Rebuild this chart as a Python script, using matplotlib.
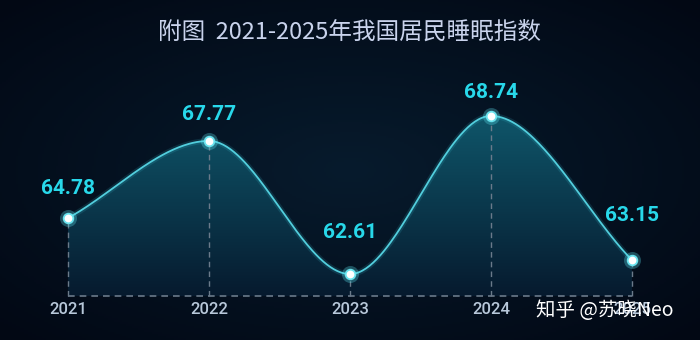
import numpy as np
import matplotlib.pyplot as plt
from matplotlib.colors import LinearSegmentedColormap

years = [2021, 2022, 2023, 2024, 2025]
index_values = [64.78, 67.77, 62.61, 68.74, 63.15]
year_labels = ["2021", "2022", "2023", "2024", "2025"]
value_labels = ["64.78", "67.77", "62.61", "68.74", "63.15"]
label_offsets = [21, 19, 30, 17, 32]  # points above each marker

plt.rcParams["font.family"] = ["Noto Sans CJK SC", "DejaVu Sans"]


def smooth_curve(x, y, n=80):
    """Monotone cubic Hermite curve through the points."""
    x = np.asarray(x, float)
    y = np.asarray(y, float)
    d = np.diff(y) / np.diff(x)
    m = np.zeros_like(y)
    m[0], m[-1] = d[0], d[-1]
    for i in range(1, len(y) - 1):
        if d[i - 1] * d[i] > 0:
            m[i] = 2 / (1 / d[i - 1] + 1 / d[i])
    xs, ys = [], []
    for i in range(len(x) - 1):
        h = x[i + 1] - x[i]
        t = np.linspace(0, 1, n)
        h00 = 2 * t**3 - 3 * t**2 + 1
        h10 = t**3 - 2 * t**2 + t
        h01 = -2 * t**3 + 3 * t**2
        h11 = t**3 - t**2
        xs.append(x[i] + t * h)
        ys.append(h00 * y[i] + h10 * h * m[i] + h01 * y[i + 1] + h11 * h * m[i + 1])
    return np.concatenate(xs), np.concatenate(ys)


fig = plt.figure(figsize=(7, 3.4), dpi=100)

# background with a soft radial glow
bg = fig.add_axes([0, 0, 1, 1], zorder=-2)
gx, gy = np.meshgrid(np.linspace(-1, 1, 350), np.linspace(-1, 1, 170))
r = np.clip(np.sqrt(gx**2 + gy**2) / 1.4, 0, 1)
c_in = np.array([7, 27, 45]) / 255
c_out = np.array([2, 8, 20]) / 255
bg.imshow(c_in * (1 - r[..., None]) + c_out * r[..., None], aspect="auto",
          extent=[0, 1, 0, 1])
bg.axis("off")

ax = fig.add_axes([0, 44 / 340, 1, 296 / 340])
ax.set_facecolor("none")
base = 61.76
ax.set_xlim(2021 - 68 / 141, 2025 + 68 / 141)
ax.set_ylim(base, base + 296 / 25.8)

xs, ys = smooth_curve(years, index_values)

# gradient area under the curve
fill = ax.fill_between(xs, ys, base, color="none", lw=0)
cmap = LinearSegmentedColormap.from_list("area", ["#061a2e", "#0f566a"])
grad = np.linspace(0, 1, 256).reshape(-1, 1)
img = ax.imshow(grad, cmap=cmap, origin="lower", aspect="auto",
                extent=[years[0], years[-1], base, max(index_values)], zorder=1)
img.set_clip_path(fill.get_paths()[0], transform=ax.transData)

# guides
ax.vlines(years, base, index_values, colors="#6a7a8a", linestyles=(0, (4, 3)),
          lw=1, zorder=2, clip_on=False)
ax.hlines(base, years[0], years[-1], colors="#6a7a8a", linestyles=(0, (4, 3)),
          lw=1.2, zorder=2, clip_on=False)

# line with glow
ax.plot(xs, ys, color="#3cc6d8", lw=4, alpha=0.15, zorder=3)
ax.plot(xs, ys, color="#52cedd", lw=1.3, zorder=4)

ax.scatter(years, index_values, s=150, color="#5fe6f2", alpha=0.3, lw=0, zorder=5)
ax.scatter(years, index_values, s=48, color="white", edgecolors="#6ae4ef",
           linewidths=1.3, zorder=6)

for x, y, txt, off in zip(years, index_values, value_labels, label_offsets):
    ax.annotate(txt, (x, y), xytext=(0, off), textcoords="offset points",
                ha="center", va="center", fontsize=15, fontweight="bold",
                color="#28d8ea", family=["Roboto", "DejaVu Sans"], zorder=7)

ax.set_xticks(years, year_labels)
ax.tick_params(axis="x", length=0, pad=4, labelsize=12, labelcolor="#b8c8da")
for lab in ax.get_xticklabels():
    lab.set_family(["Roboto", "DejaVu Sans"])
    lab.set_fontweight("medium")
ax.set_yticks([])
for s in ax.spines.values():
    s.set_visible(False)

fig.text(0.5, 1 - 32 / 340, "附图  2021-2025年我国居民睡眠指数", ha="center",
         va="center", fontsize=17, fontweight="medium", color="#c9d3ec")
fig.text(605 / 700, 1 - 311 / 340, "知乎 @苏晓Neo", ha="center", va="center",
         fontsize=14, color="white", zorder=10)

fig.savefig("out.png", dpi=100)
